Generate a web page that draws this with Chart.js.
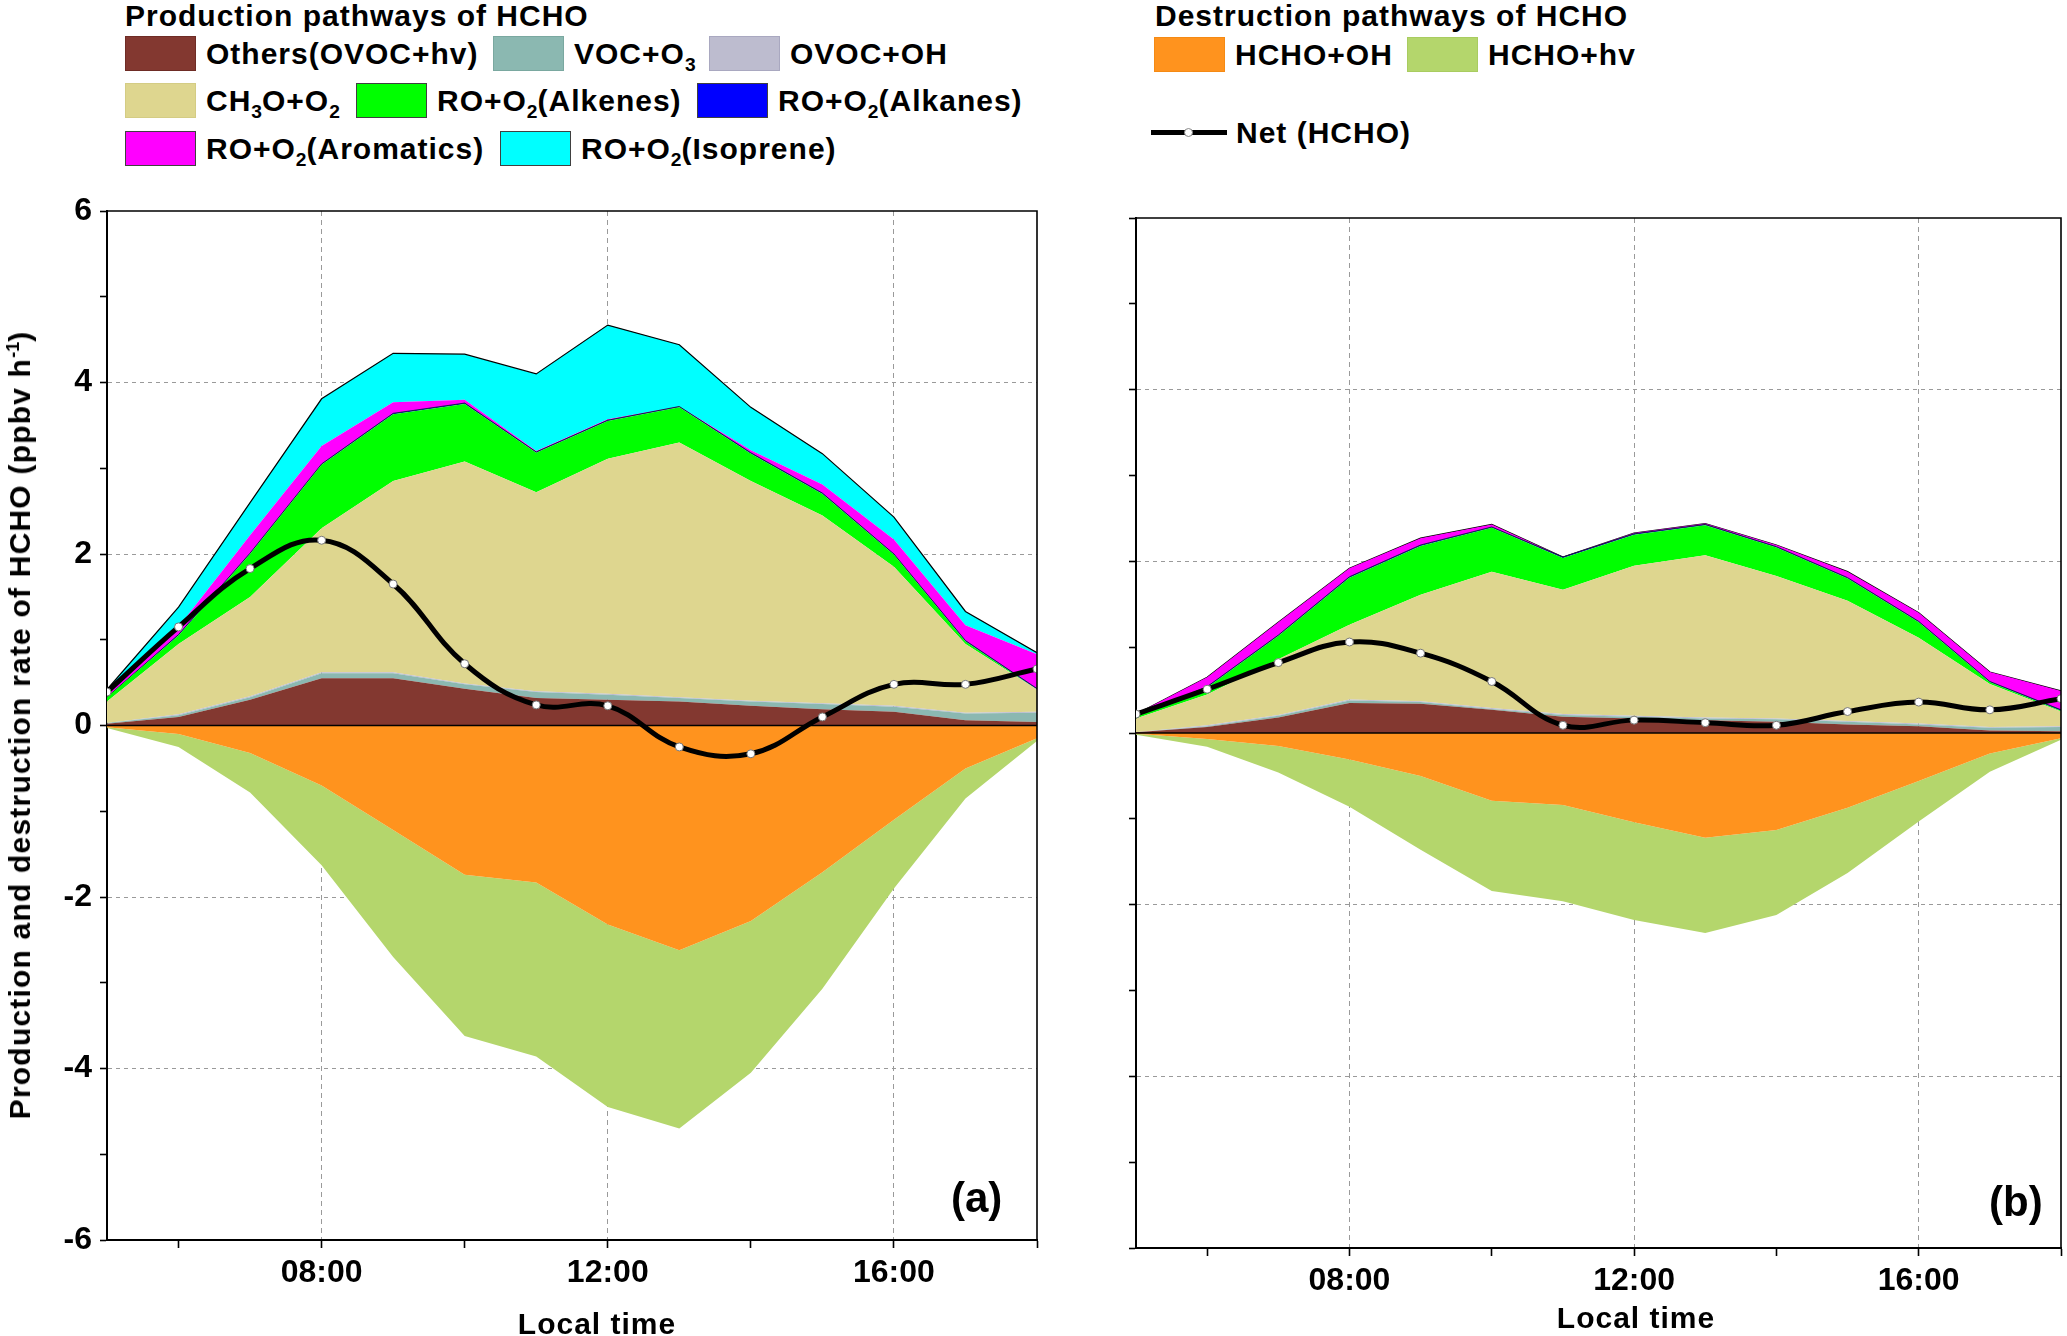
<!DOCTYPE html>
<html>
<head>
<meta charset="utf-8">
<title>Production and destruction pathways of HCHO</title>
<script src="https://cdn.jsdelivr.net/npm/chart.js@4.4.1/dist/chart.umd.min.js"></script>
<style>
  html, body { margin: 0; padding: 0; background: #fff; }
  body {
    position: relative; width: 2067px; height: 1336px; overflow: hidden;
    font-family: 'Liberation Sans', Arial, sans-serif; font-weight: bold; color: #000;
  }
  canvas { position: absolute; }
  #chartA { left: 0; top: 180px; }
  #chartB { left: 1080px; top: 180px; }
  .lg-title { position: absolute; top: 1px; font-size: 30px; line-height: 1; letter-spacing: 1px; white-space: nowrap; }
  .lg { position: absolute; height: 35px; display: flex; align-items: center; font-size: 30px; letter-spacing: 1px; white-space: nowrap; }
  .sw { width: 71px; height: 35px; box-sizing: border-box; margin-right: 10px; flex: none; }
  .lg sub { font-size: 0.64em; line-height: 0; vertical-align: -0.38em; letter-spacing: 0; }
  .netline { position: relative; width: 76px; height: 35px; margin-right: 9px; flex: none; }
  .netline::before { content: ''; position: absolute; left: 0; right: 0; top: 15px; height: 5px; background: #000; }
  .netline::after { content: ''; position: absolute; left: 33px; top: 13px; width: 7px; height: 7px; border-radius: 50%; background: #fff; border: 1px solid #888; }
  .ytitle {
    position: absolute; left: 20px; top: 725px; font-size: 30px; line-height: 1; letter-spacing: 1.2px;
    white-space: nowrap; transform: translate(-50%, -50%) rotate(-90deg);
  }
  .ytitle sup { font-size: 0.6em; line-height: 0; vertical-align: 0.6em; letter-spacing: 0; }
  .xtitle { position: absolute; font-size: 30px; line-height: 1; letter-spacing: 1px; white-space: nowrap; transform: translateX(-50%); }
  .tag { position: absolute; font-size: 42px; line-height: 1; background: #fff; padding: 0 4px; }
</style>
</head>
<body>

<!-- production legend -->
<div class="lg-title" style="left:125px">Production pathways of HCHO</div>
<div class="lg" style="left:125px; top:36px"><span class="sw" style="background:#833830;border:1px solid #6e2c25"></span><span>Others(OVOC+hv)</span></div>
<div class="lg" style="left:493px; top:36px"><span class="sw" style="background:#8bb8b1;border:1px solid #7aa8a0"></span><span>VOC+O<sub>3</sub></span></div>
<div class="lg" style="left:709px; top:36px"><span class="sw" style="background:#bdbccf;border:1px solid #a9a8c0"></span><span>OVOC+OH</span></div>
<div class="lg" style="left:125px; top:83px"><span class="sw" style="background:#ded68f;border:1px solid #d4cc84"></span><span>CH<sub>3</sub>O+O<sub>2</sub></span></div>
<div class="lg" style="left:356px; top:83px"><span class="sw" style="background:#00ff00;border:1px solid #404040"></span><span>RO+O<sub>2</sub>(Alkenes)</span></div>
<div class="lg" style="left:697px; top:83px"><span class="sw" style="background:#0000ff;border:1px solid #404040"></span><span>RO+O<sub>2</sub>(Alkanes)</span></div>
<div class="lg" style="left:125px; top:131px"><span class="sw" style="background:#ff00ff;border:1px solid #404040"></span><span>RO+O<sub>2</sub>(Aromatics)</span></div>
<div class="lg" style="left:500px; top:131px"><span class="sw" style="background:#00ffff;border:1px solid #404040"></span><span>RO+O<sub>2</sub>(Isoprene)</span></div>

<!-- destruction legend -->
<div class="lg-title" style="left:1155px">Destruction pathways of HCHO</div>
<div class="lg" style="left:1154px; top:37px"><span class="sw" style="background:#ff931e;border:1px solid #f58a14"></span><span>HCHO+OH</span></div>
<div class="lg" style="left:1407px; top:37px"><span class="sw" style="background:#b4d66c;border:1px solid #a9cc60"></span><span>HCHO+hv</span></div>
<div class="lg" style="left:1151px; top:115px"><span class="netline"></span><span>Net (HCHO)</span></div>

<canvas id="chartA" width="1060" height="1162"></canvas>
<canvas id="chartB" width="987" height="1162"></canvas>

<div class="ytitle">Production and destruction rate of HCHO (ppbv h<sup>-1</sup>)</div>
<div class="xtitle" style="left:597px; top:1309px">Local time</div>
<div class="xtitle" style="left:1636px; top:1303px">Local time</div>
<div class="tag" style="left:947px; top:1177px">(a)</div>
<div class="tag" style="left:1985px; top:1181px">(b)</div>

<script>
// hours of the day (local time)
const HOURS = [5, 6, 7, 8, 9, 10, 11, 12, 13, 14, 15, 16, 17, 18];

// panel (a): contribution of each pathway, ppbv h-1
const othersA    = [0.02, 0.10, 0.30, 0.55, 0.55, 0.43, 0.32, 0.30, 0.28, 0.23, 0.19, 0.16, 0.06, 0.04];
const vocO3A     = [0.01, 0.02, 0.03, 0.06, 0.06, 0.05, 0.07, 0.06, 0.04, 0.05, 0.06, 0.06, 0.08, 0.11];
const ovocOhA    = [0.00, 0.01, 0.01, 0.01, 0.01, 0.01, 0.01, 0.01, 0.01, 0.01, 0.01, 0.01, 0.01, 0.01];
const ch3oA      = [0.25, 0.82, 1.16, 1.68, 2.23, 2.59, 2.32, 2.74, 2.97, 2.56, 2.19, 1.62, 0.80, 0.26];
const alkenesA   = [0.05, 0.10, 0.50, 0.74, 0.78, 0.67, 0.46, 0.44, 0.41, 0.32, 0.25, 0.14, 0.03, 0.00];
const alkanesA   = [0.00, 0.01, 0.01, 0.01, 0.01, 0.01, 0.01, 0.01, 0.01, 0.01, 0.01, 0.01, 0.01, 0.01];
const aromaticsA = [0.05, 0.09, 0.21, 0.21, 0.13, 0.04, 0.01, 0.01, 0.00, 0.03, 0.10, 0.17, 0.18, 0.40];
const isopreneA  = [0.04, 0.23, 0.38, 0.55, 0.57, 0.53, 0.90, 1.10, 0.72, 0.50, 0.36, 0.26, 0.16, 0.02];
const ohLossA    = [-0.02, -0.10, -0.32, -0.70, -1.22, -1.74, -1.83, -2.32, -2.62, -2.28, -1.71, -1.10, -0.50, -0.15];
const hvLossA    = [-0.01, -0.15, -0.46, -0.93, -1.48, -1.88, -2.03, -2.13, -2.08, -1.77, -1.36, -0.80, -0.35, -0.03];
const netA       = [0.39, 1.15, 1.83, 2.16, 1.65, 0.72, 0.24, 0.23, -0.25, -0.33, 0.10, 0.48, 0.48, 0.66];

// panel (b)
const othersB    = [0.01, 0.07, 0.18, 0.35, 0.34, 0.27, 0.19, 0.17, 0.15, 0.13, 0.10, 0.08, 0.03, 0.02];
const vocO3B     = [0.00, 0.01, 0.02, 0.03, 0.02, 0.01, 0.02, 0.02, 0.02, 0.03, 0.03, 0.02, 0.03, 0.05];
const ovocOhB    = [0.00, 0.01, 0.01, 0.01, 0.01, 0.01, 0.01, 0.01, 0.01, 0.01, 0.01, 0.01, 0.01, 0.01];
const ch3oB      = [0.16, 0.36, 0.65, 0.87, 1.24, 1.59, 1.45, 1.75, 1.89, 1.66, 1.40, 1.00, 0.50, 0.17];
const alkenesB   = [0.02, 0.08, 0.27, 0.55, 0.57, 0.51, 0.37, 0.36, 0.35, 0.33, 0.26, 0.18, 0.02, 0.01];
const alkanesB   = [0.00, 0.01, 0.01, 0.01, 0.01, 0.01, 0.01, 0.01, 0.01, 0.01, 0.01, 0.01, 0.01, 0.01];
const aromaticsB = [0.03, 0.11, 0.15, 0.10, 0.08, 0.03, 0.00, 0.01, 0.01, 0.02, 0.07, 0.10, 0.11, 0.22];
const isopreneB  = [0.00, 0.00, 0.00, 0.00, 0.00, 0.00, 0.00, 0.00, 0.00, 0.00, 0.00, 0.00, 0.00, 0.00];
const ohLossB    = [-0.01, -0.07, -0.15, -0.31, -0.50, -0.79, -0.84, -1.04, -1.22, -1.13, -0.87, -0.56, -0.24, -0.06];
const hvLossB    = [-0.01, -0.09, -0.31, -0.55, -0.86, -1.05, -1.12, -1.14, -1.11, -0.99, -0.76, -0.47, -0.21, -0.02];
const netB       = [0.22, 0.51, 0.82, 1.06, 0.93, 0.60, 0.09, 0.15, 0.12, 0.09, 0.25, 0.36, 0.27, 0.40];

const PROD_LABELS = ['Others(OVOC+hv)', 'VOC+O3', 'OVOC+OH', 'CH3O+O2', 'RO+O2(Alkenes)', 'RO+O2(Alkanes)', 'RO+O2(Aromatics)', 'RO+O2(Isoprene)'];
const PROD_COLORS = ['#833830', '#8bb8b1', '#bdbccf', '#ded68f', '#00ff00', '#0000ff', '#ff00ff', '#00ffff'];
const DEST_LABELS = ['HCHO+OH', 'HCHO+hv'];
const DEST_COLORS = ['#ff931e', '#b4d66c'];

Chart.defaults.font.family = "'Liberation Sans', Arial, sans-serif";
Chart.defaults.font.weight = 'bold';
Chart.defaults.color = '#000';

const pts = vals => vals.map((v, i) => ({ x: HOURS[i], y: v }));

function buildDatasets(prod, dest, net) {
  const sets = [];
  prod.forEach((vals, i) => {
    let edge = 0, edgeColor = PROD_COLORS[i];
    if (i === 5) { edge = 1; edgeColor = '#1a1a40'; }   // alkanes: thin dark band
    if (i === 7) { edge = 1.2; edgeColor = '#000'; }     // outline on top of the stack
    sets.push({
      label: PROD_LABELS[i], stack: 'prod', data: pts(vals),
      backgroundColor: PROD_COLORS[i], borderColor: edgeColor, borderWidth: edge,
      fill: i === 0 ? 'origin' : '-1', pointRadius: 0, tension: 0
    });
  });
  dest.forEach((vals, i) => {
    sets.push({
      label: DEST_LABELS[i], stack: 'dest', data: pts(vals),
      backgroundColor: DEST_COLORS[i], borderColor: DEST_COLORS[i], borderWidth: 0,
      fill: i === 0 ? 'origin' : '-1', pointRadius: 0, tension: 0
    });
  });
  sets.push({
    label: 'Net (HCHO)', stack: 'net', data: pts(net), order: -1,
    borderColor: '#000', borderWidth: 5, fill: false, tension: 0.4,
    pointRadius: 4, pointBackgroundColor: '#fff', pointBorderColor: '#777', pointBorderWidth: 1
  });
  return sets;
}

// full frame plus the zero line, drawn once the filled areas are done
const framePlugin = {
  id: 'frame',
  afterDatasetDraw(chart, args) {
    if (args.index !== 0) return;
    const { ctx, chartArea: a, scales: { y } } = chart;
    const y0 = y.getPixelForValue(0);
    ctx.save();
    ctx.strokeStyle = '#000';
    ctx.lineWidth = 1.6;
    ctx.beginPath(); ctx.moveTo(a.left, y0); ctx.lineTo(a.right, y0); ctx.stroke();
    ctx.restore();
  },
  afterDraw(chart) {
    const { ctx, chartArea: a } = chart;
    ctx.save();
    ctx.strokeStyle = '#000';
    ctx.lineWidth = 1.6;
    ctx.beginPath();
    ctx.moveTo(a.left, a.top); ctx.lineTo(a.right, a.top); ctx.lineTo(a.right, a.bottom);
    ctx.stroke();
    ctx.restore();
  }
};

function makeChart(id, sets, opt) {
  return new Chart(document.getElementById(id), {
    type: 'line',
    data: { datasets: sets },
    plugins: [framePlugin],
    options: {
      responsive: false, animation: false, devicePixelRatio: 1,
      layout: { padding: { left: 0, top: opt.padTop, right: opt.padRight, bottom: 0 } },
      plugins: { legend: { display: false }, tooltip: { enabled: false } },
      scales: {
        x: {
          type: 'linear', min: 5, max: 18,
          afterFit: s => { s.height = opt.xHeight; },
          ticks: {
            stepSize: 1, autoSkip: false, maxRotation: 0, padding: 6,
            font: { size: 32, weight: 'bold' },
            callback: v => (v % 4 === 0 ? String(v).padStart(2, '0') + ':00' : '')
          },
          grid: {
            color: c => ([8, 12, 16].includes(c.tick.value) ? '#9a9a9a' : 'transparent'),
            tickColor: c => (c.tick.value % 2 === 0 ? '#000' : 'transparent'),
            tickLength: 8, tickWidth: 1.6, lineWidth: 1
          },
          border: { display: true, color: '#000', width: 2, dash: [5, 4] }
        },
        y: {
          stacked: true, min: -6, max: 6,
          afterFit: s => { s.width = opt.yWidth; },
          ticks: {
            stepSize: 1, autoSkip: false, padding: 8,
            font: { size: 32, weight: 'bold' },
            callback: v => (opt.yLabels && v % 2 === 0 ? String(v) : '')
          },
          grid: {
            color: c => (c.tick.value % 2 === 0 && Math.abs(c.tick.value) !== 6 && c.tick.value !== 0 ? '#9a9a9a' : 'transparent'),
            tickColor: '#000', tickLength: 7, tickWidth: 1.6, lineWidth: 1
          },
          border: { display: true, color: '#000', width: 2, dash: [4, 4] }
        }
      }
    }
  });
}

makeChart('chartA',
  buildDatasets([othersA, vocO3A, ovocOhA, ch3oA, alkenesA, alkanesA, aromaticsA, isopreneA], [ohLossA, hvLossA], netA),
  { padTop: 31, padRight: 23, xHeight: 102, yWidth: 107, yLabels: true });

makeChart('chartB',
  buildDatasets([othersB, vocO3B, ovocOhB, ch3oB, alkenesB, alkanesB, aromaticsB, isopreneB], [ohLossB, hvLossB], netB),
  { padTop: 38, padRight: 4, xHeight: 94, yWidth: 56, yLabels: false });
</script>
</body>
</html>
